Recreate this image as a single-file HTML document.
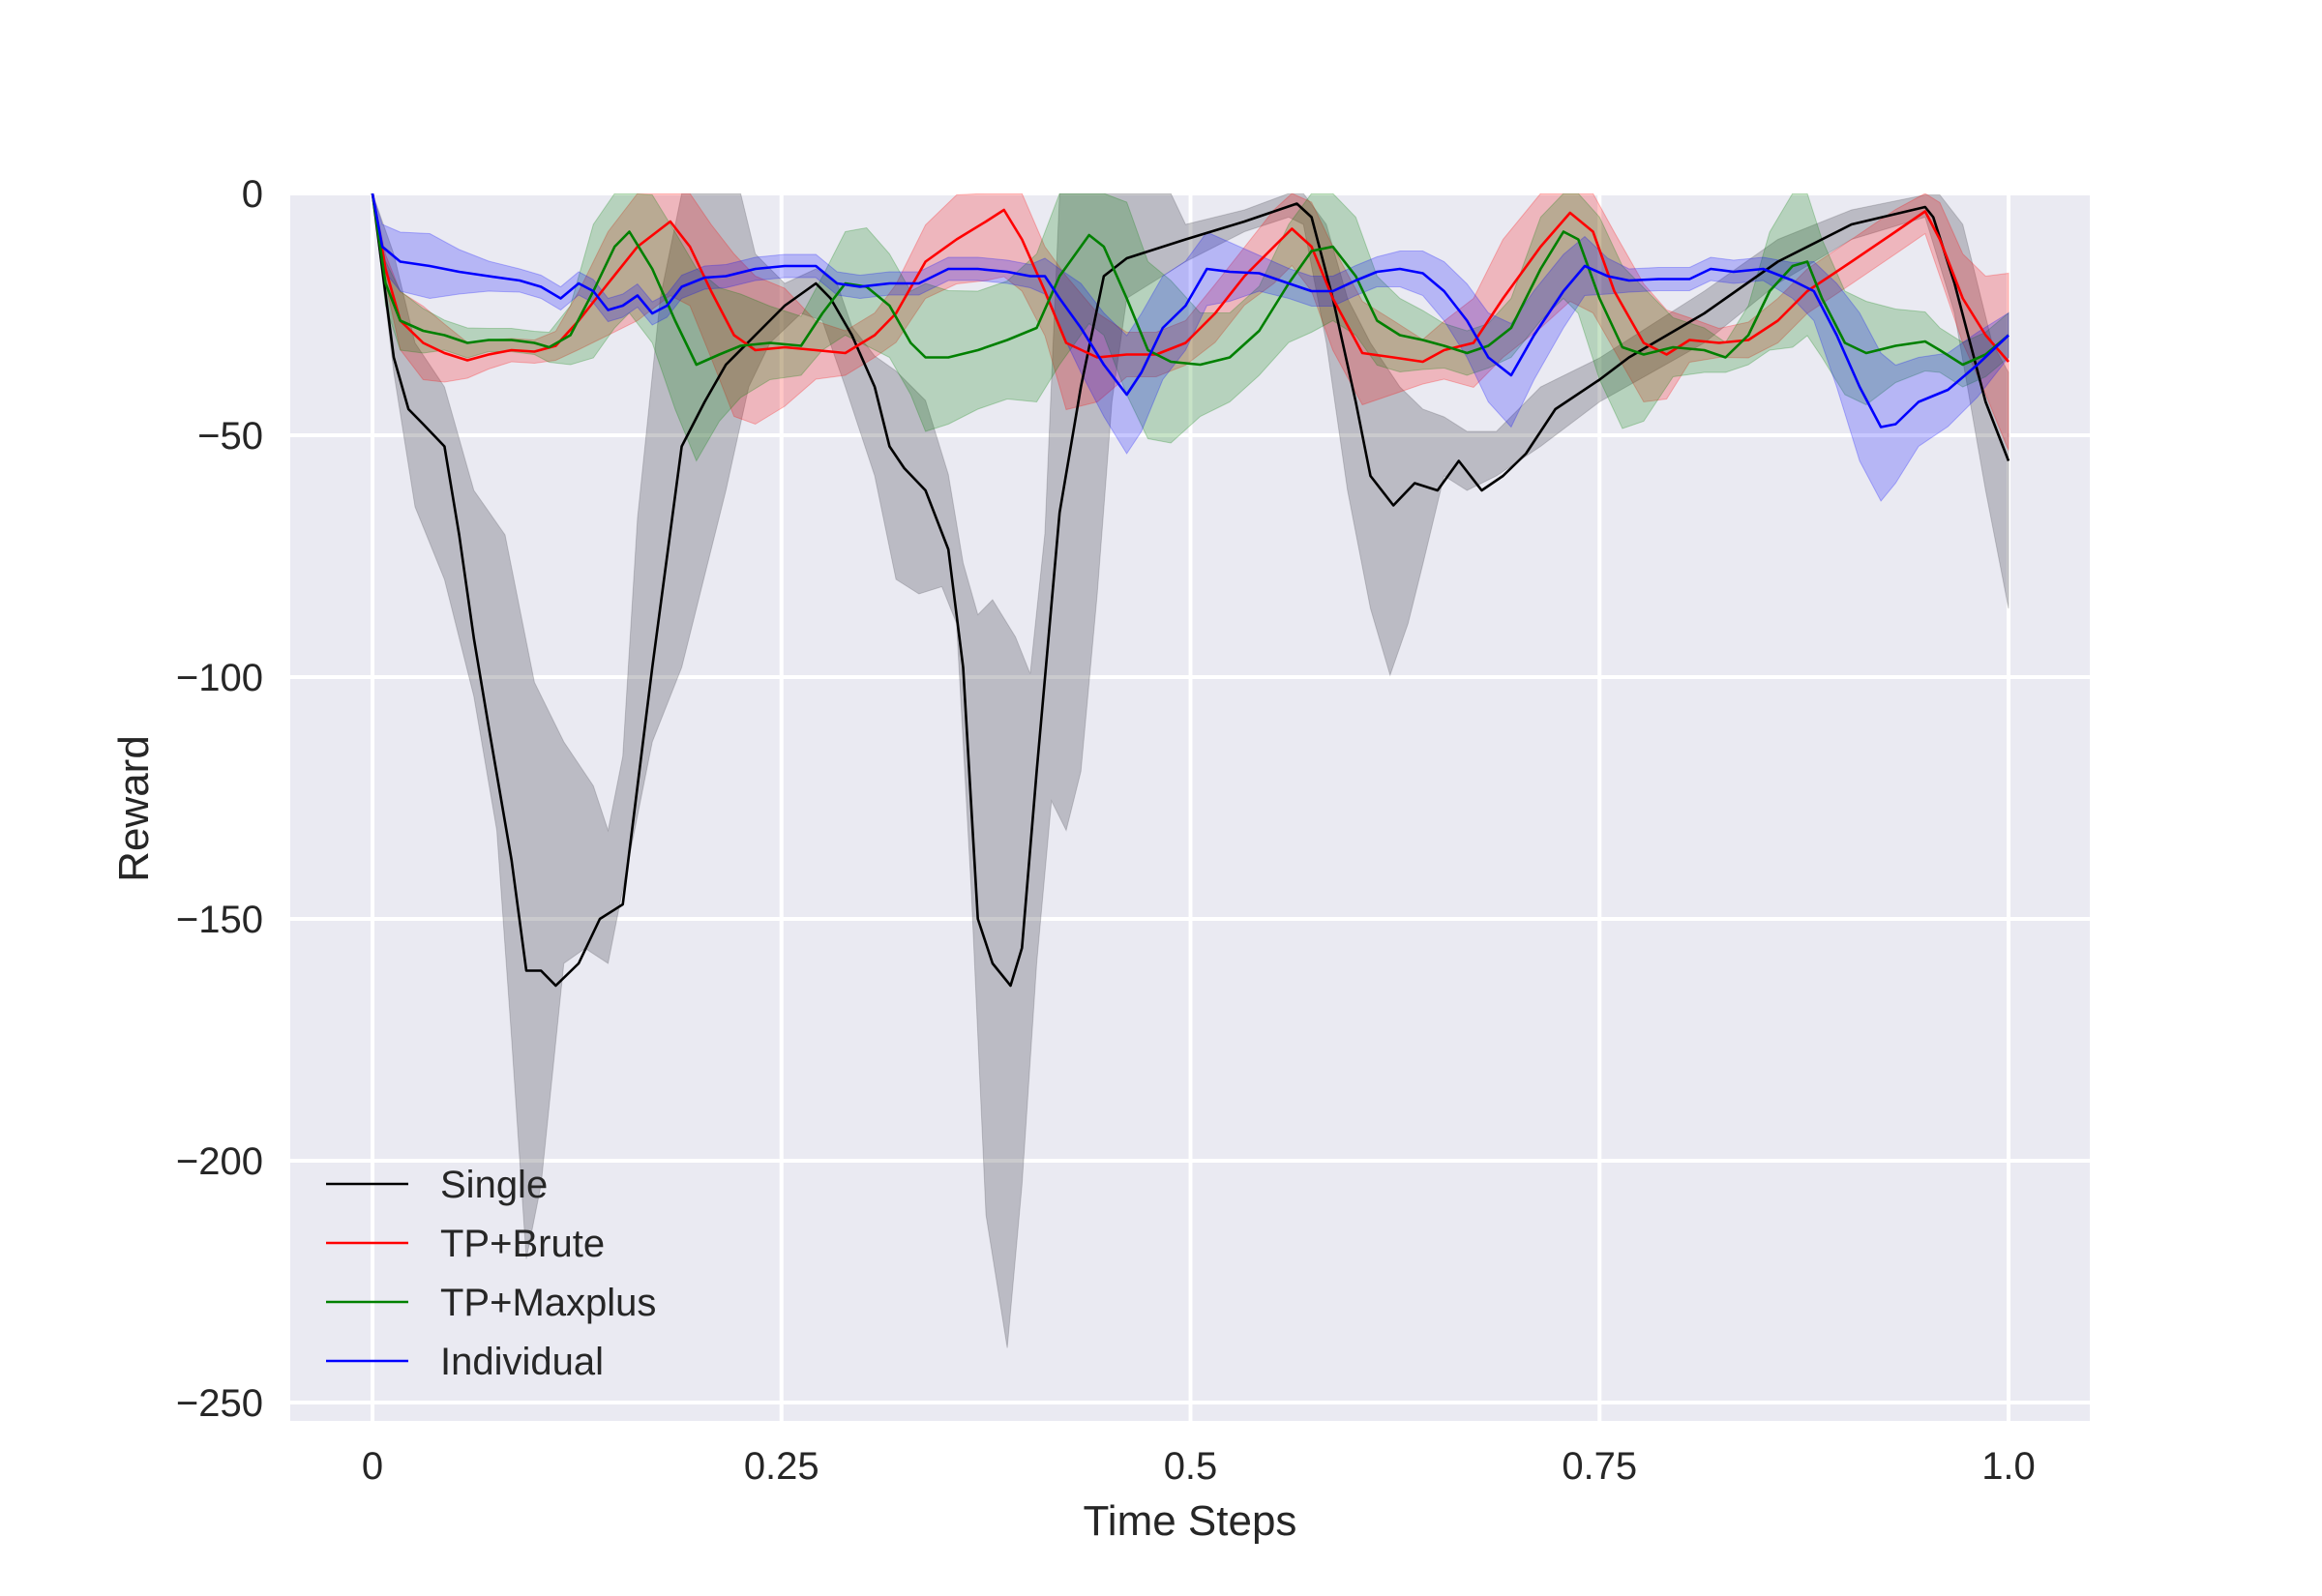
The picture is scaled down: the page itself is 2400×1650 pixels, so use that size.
<!DOCTYPE html>
<html><head><meta charset="utf-8"><style>
html,body{margin:0;padding:0;background:#fff;}
svg{display:block;font-family:"Liberation Sans",sans-serif;}
</style></head><body>
<svg id="chart" width="2400" height="1650" viewBox="0 0 2400 1650" xmlns="http://www.w3.org/2000/svg">
<defs><clipPath id="clip"><rect x="300" y="200" width="1860" height="1269"/></clipPath></defs>
<rect x="300" y="200" width="1860" height="1269" fill="#EAEAF2"/>
<g id="grid"></g>
<g id="bands" clip-path="url(#clip)"></g>
<g id="lines" clip-path="url(#clip)"></g>
<g id="ticks" font-size="40" fill="#262626"></g>
<text x="1230" y="1587" font-size="44" text-anchor="middle" fill="#262626">Time Steps</text>
<text transform="translate(153,836) rotate(-90)" font-size="44" text-anchor="middle" fill="#262626">Reward</text>
<g id="legend" font-size="40" fill="#262626"></g>
</svg>
<script>
const xTicks=[0,0.25,0.5,0.75,1.0];
const xTickLabels=["0","0.25","0.5","0.75","1.0"];
const yTicks=[0,-50,-100,-150,-200,-250];
const yTickLabels=["0","\u221250","\u2212100","\u2212150","\u2212200","\u2212250"];
const seriesNames=["Single","TP+Brute","TP+Maxplus","Individual"];
const seriesColors=["#000000","#ff0000","#008000","#0000ff"];

const singleT=[0,.006,.013,.022,.031,.044,.053,.062,.071,.085,.094,.103,.112,.126,.139,.153,.171,.189,.203,.216,.234,.252,.271,.280,.293,.307,.316,.325,.338,.352,.361,.370,.379,.390,.397,.406,.420,.433,.447,.461,.497,.533,.565,.574,.587,.601,.610,.624,.637,.651,.664,.678,.691,.705,.723,.750,.768,.814,.859,.904,.949,.954,.967,.986,1.0];
const singleMean=[0,-15.6,-33.9,-44.6,-47.7,-52.3,-70.6,-92,-110.3,-137.8,-160.7,-160.7,-163.8,-159.2,-150,-147,-98,-52.3,-43.1,-35.4,-29.3,-23.2,-18.6,-21.7,-29.3,-40,-52.3,-56.8,-61.4,-73.6,-98,-150,-159.2,-163.8,-156,-119.5,-66,-40,-17.1,-13.4,-9.5,-5.8,-2.1,-4.9,-21.7,-43.1,-58.4,-64.5,-59.9,-61.4,-55.3,-61.4,-58.4,-53.8,-44.6,-38.5,-33.9,-24.8,-14.1,-6.4,-2.8,-4.9,-18.6,-43.1,-55.3];
const singleLowT=[0,.013,.026,.044,.062,.076,.085,.094,.103,.117,.130,.144,.153,.171,.189,.216,.230,.243,.262,.275,.289,.307,.320,.334,.348,.357,.366,.375,.388,.397,.406,.415,.424,.433,.443,.452,.461,.497,.533,.560,.569,.583,.596,.610,.622,.633,.642,.655,.669,.687,.714,.750,.814,.859,.904,.949,.967,.986,1.0];
const singleLow=[0,-37,-64.8,-79.8,-104,-131.7,-174.5,-220.3,-205,-159.2,-156.1,-159.2,-143.9,-113.4,-98,-61.4,-40,-30.9,-24.8,-26.3,-40,-58.4,-79.8,-82.8,-81.3,-88.9,-144,-211.2,-238.7,-205,-159.2,-125.6,-131.7,-119.5,-82.8,-43.1,-21.7,-14.1,-7.9,-4.9,-6.4,-30.9,-61.4,-85.8,-99.6,-88.9,-76.7,-58.4,-61.4,-58.4,-52.3,-43.1,-30.9,-18.6,-9.5,-4.9,-24.8,-61.4,-85.8];
const singleHighT=[0,.013,.026,.044,.062,.081,.099,.117,.135,.144,.153,.162,.176,.189,.225,.234,.252,.271,.284,.293,.307,.320,.338,.352,.361,.370,.379,.393,.402,.411,.420,.488,.497,.533,.560,.569,.583,.596,.610,.628,.642,.655,.669,.687,.714,.750,.814,.859,.904,.949,.958,.972,.990,1.0];
const singleHigh=[0,-12.5,-30.9,-40,-61.4,-70.6,-101.1,-113.4,-122.5,-131.7,-116.4,-67.2,-21.4,0,0,-12.5,-18.6,-15.6,-18.6,-27.5,-33.6,-36.7,-42.8,-58.1,-76.4,-87.1,-84,-91.7,-99.3,-70.3,0,0,-6.4,-3.4,0,0,-6.4,-21.7,-30.9,-40,-44.6,-46.2,-49.2,-49.2,-40,-34,-20.2,-9.5,-3.4,-0.3,-0.3,-6.4,-30.9,-37];

const bruteT=[0,.008,.017,.031,.044,.058,.071,.085,.099,.112,.126,.144,.162,.182,.194,.207,.221,.234,.252,.271,.289,.307,.320,.338,.357,.375,.386,.397,.411,.424,.443,.461,.479,.497,.515,.533,.551,.562,.574,.587,.605,.624,.642,.655,.673,.691,.714,.732,.746,.759,.777,.791,.805,.823,.841,.859,.877,.904,.931,.949,.958,.972,.986,1.0];
const bruteMean=[0,-15.6,-26.3,-30.9,-33,-34.5,-33.3,-32.4,-32.7,-31.5,-26.3,-18.6,-11,-5.8,-11,-20.2,-29.3,-32.4,-31.8,-32.4,-33,-29.3,-24.8,-14.1,-9.5,-5.8,-3.4,-9.5,-20.2,-30.9,-33.9,-33.3,-33.3,-30.9,-24.8,-17.1,-11,-7.3,-11,-21.7,-33,-33.9,-34.8,-32.4,-30.9,-21.7,-11,-4,-7.9,-20.2,-30.9,-33.3,-30.3,-30.9,-30.3,-26.3,-20.2,-14.1,-7.9,-3.7,-9.5,-21.7,-29.3,-34.8];
const bruteSpread=[0,3,6,7.6,6,3.7,3,2.4,2.4,3,6,10.7,15.3,15.3,12.2,13.8,16.8,15.3,12.2,6,4.6,4.6,6,7.6,9.2,12.2,13.8,10.7,9.2,13.8,9.2,4.6,4.6,4.6,6,6,7.6,7.6,9.2,10.7,10.7,7.6,4.6,6,9.2,12.2,16.8,18.3,16.8,12.2,12.2,9.2,4.6,3,3.7,4.6,4.6,4.6,4.6,4.6,7.6,9.2,12.2,18.3];

const maxplusT=[0,.008,.017,.031,.044,.058,.071,.085,.099,.108,.121,.135,.148,.157,.171,.185,.198,.212,.225,.243,.262,.275,.289,.302,.316,.329,.338,.352,.370,.388,.406,.420,.438,.447,.461,.474,.488,.506,.524,.542,.560,.574,.587,.601,.614,.628,.642,.655,.669,.682,.696,.714,.728,.737,.750,.764,.777,.795,.814,.827,.841,.854,.868,.877,.886,.900,.913,.931,.949,.958,.972,.986,1.0];
const maxplusMean=[0,-18.6,-26.3,-28.4,-29.3,-30.9,-30.3,-30.3,-30.9,-31.8,-29.3,-20.2,-11,-7.9,-15.6,-26.3,-35.4,-33.3,-31.5,-30.9,-31.5,-24.8,-18.6,-19.3,-23.2,-30.9,-33.9,-33.9,-32.4,-30.3,-27.8,-17.1,-8.6,-11,-21.7,-32.4,-34.8,-35.4,-33.9,-28.4,-18.6,-11.9,-11,-17.1,-26.3,-29.3,-30.3,-31.5,-33,-31.5,-27.8,-15.6,-7.9,-9.5,-21.7,-31.8,-33.3,-31.8,-32.4,-33.9,-29.3,-20.2,-15,-14.1,-21.7,-30.9,-33,-31.5,-30.6,-32.4,-35.4,-33.3,-29.3];
const maxplusSpread=[0,4.6,6.1,4.6,3.1,3.1,2.4,2.4,2.4,3.1,6.1,13.8,16.8,16.8,15.3,18.3,19.9,13.8,10.7,7.6,6.1,7.6,10.7,12.2,10.7,10.7,15.3,13.8,12.2,12.2,15.3,18.3,18.3,18.3,19.9,18.3,16.8,10.7,9.2,9.2,12.2,16.8,15.3,12.2,9.2,7.6,6.1,4.6,4.6,4.6,6.1,10.7,13.8,15.3,16.8,16.8,13.8,6.1,4.6,3.1,6.1,12.2,16.8,15.3,12.2,10.7,10.7,7.6,6.1,4.6,4.6,4.6,4.6];

const indivT=[0,.006,.017,.035,.053,.071,.090,.103,.115,.126,.135,.144,.153,.162,.171,.180,.189,.203,.216,.234,.252,.271,.284,.298,.316,.334,.352,.370,.388,.402,.411,.420,.433,.447,.461,.470,.483,.497,.510,.524,.542,.560,.574,.587,.601,.614,.628,.642,.655,.669,.682,.696,.710,.728,.741,.755,.768,.786,.805,.818,.832,.850,.868,.881,.895,.909,.922,.931,.945,.963,.981,1.0];
const indivMean=[0,-11,-14.1,-15,-16.2,-17.1,-18,-19.3,-21.7,-18.6,-20.2,-24.1,-23.2,-21.1,-24.8,-23.2,-19.3,-17.4,-17.1,-15.6,-15,-15,-18.6,-19.3,-18.6,-18.6,-15.6,-15.6,-16.2,-17.1,-17.1,-21.7,-27.8,-35.4,-41.6,-37,-27.8,-23.2,-15.6,-16.2,-16.5,-18.6,-20.2,-20.2,-18,-16.2,-15.6,-16.5,-20.2,-26.3,-33.9,-37.6,-29.3,-20.2,-15,-17.1,-18,-17.7,-17.7,-15.6,-16.2,-15.6,-18,-20.2,-29.3,-40,-48.3,-47.7,-43.1,-40.6,-35.4,-29.3];
const indivSpread=[0,4.6,6.1,6.7,4.6,3.1,2.4,2.4,2.4,2.4,2.4,2.4,2.4,2.4,2.4,2.4,2.4,2.4,2.4,2.4,2.4,2.4,2.4,2.4,2.4,2.4,2.4,2.4,2.4,2.4,3.7,6.1,9.2,10.7,12.2,12.2,10.7,9.2,7.6,6.1,3.7,3.1,3.1,3.1,3.1,3.1,3.7,4.6,6.1,7.6,9.2,10.7,9.2,7.6,6.1,3.7,2.4,2.4,2.4,2.4,2.4,2.4,3.7,6.1,10.7,15.3,15.3,12.2,9.2,7.6,6.7,4.6];

const X0=385, X1=2076, Y0=200, YPER=5;
function xs(t){return X0+t*(X1-X0);}
function ys(v){return Y0-v*YPER;}
const NS="http://www.w3.org/2000/svg";
function mk(tag,attrs,parent){const e=document.createElementNS(NS,tag);for(const k in attrs)e.setAttribute(k,attrs[k]);parent.appendChild(e);return e;}
const grid=document.getElementById('grid'),ticks=document.getElementById('ticks');
xTicks.forEach((t,i)=>{
  const l=mk('line',{x1:xs(t),x2:xs(t),y1:200,y2:1469,stroke:'#fff','stroke-width':4},grid);
  
  
  const tx=mk('text',{x:xs(t),y:1529,'text-anchor':'middle'},ticks);
  tx.textContent=xTickLabels[i];
  
  
});
yTicks.forEach((v,i)=>{
  const l=mk('line',{x1:300,x2:2160,y1:ys(v),y2:ys(v),stroke:'#fff','stroke-width':4},grid);
  
  
  const tx=mk('text',{x:272,y:ys(v)+14,'text-anchor':'end'},ticks);
  tx.textContent=yTickLabels[i];
  
  
});
function pts(T,V){return T.map((t,i)=>xs(t).toFixed(1)+','+ys(V[i]).toFixed(1));}
function band(TL,L,TH,H,color,op,name){
  const p=pts(TH,H).concat(pts(TL,L).reverse());
  const e=mk('polygon',{points:p.join(' '),fill:color,'fill-opacity':op,stroke:color,'stroke-opacity':0.25,'stroke-width':1},document.getElementById('bands'));
  
  
}
function line(T,V,color,name){
  const e=mk('polyline',{points:pts(T,V).join(' '),fill:'none',stroke:color,'stroke-width':2.6,'stroke-linejoin':'round'},document.getElementById('lines'));
  
  
}
function sym(T,M,S){return [M.map((m,i)=>m-(S[i]||0)),M.map((m,i)=>Math.min(0,m+(S[i]||0)))];}
band(singleLowT,singleLow,singleHighT,singleHigh,'#505058',0.3,'single-band');
let b=sym(bruteT,bruteMean,bruteSpread);band(bruteT,b[0],bruteT,b[1],'#ff0000',0.22,'tp-brute-band');
b=sym(maxplusT,maxplusMean,maxplusSpread);band(maxplusT,b[0],maxplusT,b[1],'#008000',0.22,'tp-maxplus-band');
b=sym(indivT,indivMean,indivSpread);band(indivT,b[0],indivT,b[1],'#0000ff',0.22,'individual-band');
line(singleT,singleMean,seriesColors[0],'single-line');
line(bruteT,bruteMean,seriesColors[1],'tp-brute-line');
line(maxplusT,maxplusMean,seriesColors[2],'tp-maxplus-line');
line(indivT,indivMean,seriesColors[3],'individual-line');
const lg=document.getElementById('legend');
seriesNames.forEach((n,i)=>{
  const y=1224+i*61;
  const l=mk('line',{x1:337,x2:422,y1:y,y2:y,stroke:seriesColors[i],'stroke-width':2.6},lg);
  
  
  const t=mk('text',{x:455,y:y+14},lg);
  t.textContent=n;
  
  
});
</script>
</body></html>
